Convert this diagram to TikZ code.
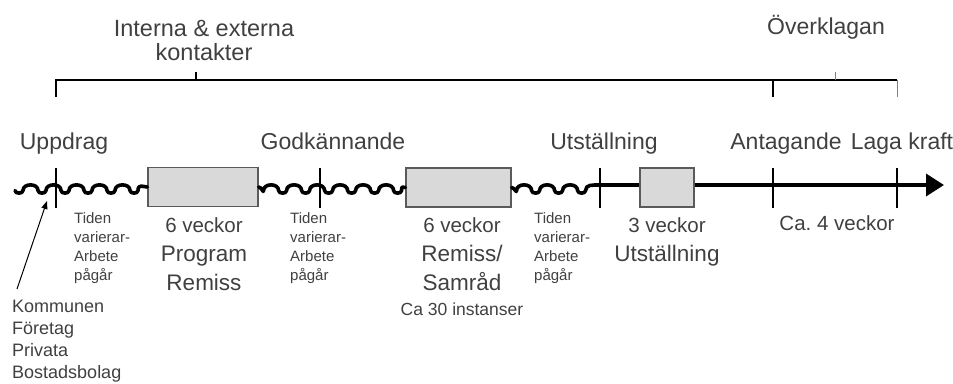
\documentclass[tikz,border=0pt]{standalone}
\usepackage{fontspec}
\setmainfont{Liberation Sans}
\usetikzlibrary{arrows.meta}
\definecolor{txt}{HTML}{404040}
\definecolor{boxfill}{HTML}{D9D9D9}
\definecolor{boxline}{HTML}{5A5A5A}
\definecolor{thinline}{HTML}{808080}
\frenchspacing
\begin{document}
\begin{tikzpicture}[x=1pt,y=-1pt,
  lab/.style={text=txt,font=\fontsize{23}{26}\selectfont,inner sep=0pt,anchor=base},
  toplab/.style={text=txt,font=\fontsize{23.5}{24}\selectfont,inner sep=0pt,anchor=base,align=center},
  smalltxt/.style={text=txt,font=\fontsize{15}{19}\selectfont,inner sep=0pt,anchor=base west,align=left},
  midtxt/.style={text=txt,font=\fontsize{22.5}{29}\selectfont,inner sep=0pt,anchor=base,align=center},
  listtxt/.style={text=txt,font=\fontsize{18}{21.7}\selectfont,inner sep=0pt,anchor=base west,align=left},
  phase/.style={draw=boxline,line width=1.2pt,fill=boxfill,minimum height=39pt,inner sep=0pt},
  wave/.style={line width=3.6pt,line join=round,line cap=round},
  axis/.style={line width=3.6pt},
  tickmark/.style={line width=2.4pt},
  brace/.style={line width=2.4pt},
  thinmark/.style={line width=1pt,draw=thinline},
  pointer/.style={line width=1pt,-{Triangle[length=8pt,width=6pt]}}]
\useasboundingbox (0,0) rectangle (953,383);

% top bracket
\coordinate (bl) at (56,97);
\coordinate (bc) at (56,80);
\coordinate (br) at (897,80);
\coordinate (bm) at (773,80);
\draw[brace] (bl) -- (bc) -- (br);
\draw[brace] (bm) -- ++(0,17);
\draw[brace,line width=1.6pt] (196,80) -- (196,72);
\draw[thinmark] (br) -- ++(0,17);
\draw[thinmark] (835,80) -- (835,72);

\node[toplab] (ext) at (204,60) {Interna \& externa\\kontakter};
\node[lab] (ovk) at (826,34) {Överklagan};

% milestone labels
\node[lab] (upp) at (64,149) {Uppdrag};
\node[lab] (godk) at (333,149) {Godkännande};
\node[lab] (utst) at (604,149) {Utställning};
\node[lab] (anta) at (786,149) {Antagande};
\node[lab] (laga) at (902,149) {Laga kraft};

% phase boxes
\node[phase,minimum width=110pt] (b1) at (203,187) {};
\node[phase,minimum width=105pt] (b2) at (458.5,187.5) {};
\node[phase,minimum width=54pt] (b3) at (667,187.5) {};

% wavy line
\coordinate (w0) at (15,190.5);
\coordinate (t3) at (600,185);
\coordinate (aend) at (944,185);
\draw[wave] (w0) .. controls +(0,3.5) and +(0,3.5) .. ++(8,0)
  \foreach \i in {1,...,5} { .. controls +(0,-7.5) and +(0,-7.5) .. ++(15,0) .. controls +(0,3.5) and +(0,3.5) .. ++(8,0) }
  .. controls +(0,-7) and +(-4,0) .. (b1.west);
\draw[wave] (b1.east) .. controls +(3,0) and +(0,3.5) .. ++(5,3.5)
  \foreach \i in {1,...,6} { .. controls +(0,-7.5) and +(0,-7.5) .. ++(15,0) .. controls +(0,3.5) and +(0,3.5) .. ++(8,0) }
  .. controls +(0,-5) and +(-3,0) .. (b2.west);
\draw[wave] (b2.east) .. controls +(3,0) and +(0,3.5) .. ++(5,3)
  \foreach \i in {1,...,3} { .. controls +(0,-7.5) and +(0,-7.5) .. ++(15,0) .. controls +(0,3.5) and +(0,3.5) .. ++(8,0) }
  .. controls +(0,-6) and +(-8,0) .. (t3);

% straight axis with arrow
\draw[axis] (t3) -- (t3 -| b3.west);
\draw[axis,-{Triangle[length=18pt,width=22pt]}] (t3 -| b3.east) -- (aend);

% ticks
\foreach \tx in {56,320,600,773,897}
  \draw[tickmark] (\tx,168) -- (\tx,208);

% lower texts
\node[smalltxt] (v1) at (74,280) {Tiden\\varierar-\\Arbete\\pågår};
\node[smalltxt] (v2) at (290,280) {Tiden\\varierar-\\Arbete\\pågår};
\node[smalltxt] (v3) at (534,280) {Tiden\\varierar-\\Arbete\\pågår};

\node[midtxt] (d1) at (204,290) {{\fontsize{20.5}{29}\selectfont 6 veckor}\\Program\\Remiss};
\node[midtxt] (d2) at (462,290) {{\fontsize{20.5}{29}\selectfont 6 veckor}\\Remiss/\\Samråd};
\node[text=txt,font=\fontsize{17.5}{20}\selectfont,inner sep=0pt,anchor=base] (d2b) at (462,315) {Ca 30 instanser};
\node[midtxt] (d3) at (667,261) {{\fontsize{20.5}{29}\selectfont 3 veckor}\\Utställning};
\node[text=txt,font=\fontsize{20.5}{24}\selectfont,inner sep=0pt,anchor=base] (d4) at (837,230) {Ca. 4 veckor};

\node[listtxt] (src) at (12,378) {Kommunen\\Företag\\Privata\\Bostadsbolag};
\coordinate (a0) at (17,289);
\coordinate (a1) at (47,201);
\draw[pointer] (a0) -- (a1);
\end{tikzpicture}
\end{document}
